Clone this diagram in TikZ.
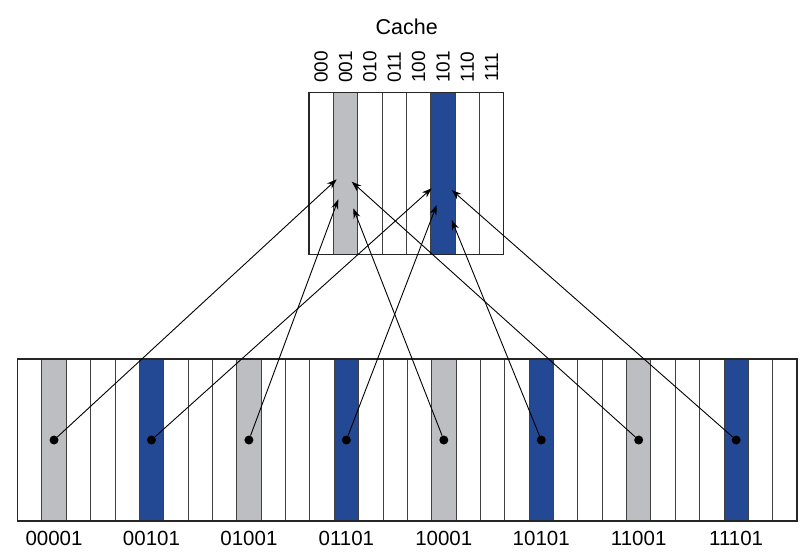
\documentclass[tikz,border=0pt]{standalone}
\usepackage{fontspec}
\setmainfont{Liberation Sans}
\usetikzlibrary{arrows.meta}
\definecolor{slotgray}{RGB}{189,190,193}
\definecolor{slotblue}{RGB}{35,73,148}

\begin{document}
\begin{tikzpicture}[x=1pt, y=-1pt,
  dot/.style={circle, fill=black, inner sep=0pt, minimum size=9pt},
  link/.style={-{Stealth[length=10pt, width=7pt]}, line width=0.9pt},
  slot/.style={draw=black!75, line width=0.8pt},
  frame/.style={draw=black!85, line width=1.2pt}]
  \useasboundingbox (0,0) rectangle (810,558);

  % cache
  \node[font=\fontsize{21.5}{24}\selectfont] (title) at (406.7,27) {Cache};
  \fill[slotgray] ({309+1*24.36},92.5) rectangle ++(24.36,162);
  \fill[slotblue] ({309+5*24.36},92.5) rectangle ++(24.36,162);
  \foreach \j in {1,...,7}
    \draw[slot] ({309+\j*24.36},92.5) -- ++(0,162);
  \draw[frame] (309,92.5) rectangle ({309+8*24.36},254.5);
  \foreach \j/\lab in {0/000,1/001,2/010,3/011,4/100,5/101,6/110,7/111}
    \node[rotate=90, font=\fontsize{19}{20}\selectfont] (b\j) at ({309+(\j+0.5)*24.36},67) {\lab};

  % memory
  \foreach \i in {1,9,17,25}
    \fill[slotgray] ({17.5+\i*24.36},359) rectangle ++(24.36,162);
  \foreach \i in {5,13,21,29}
    \fill[slotblue] ({17.5+\i*24.36},359) rectangle ++(24.36,162);
  \foreach \i in {1,...,31}
    \draw[slot] ({17.5+\i*24.36},359) -- ++(0,162);
  \draw[frame] (17.5,359) rectangle ({17.5+32*24.36},521);
  \foreach \i/\lab in {1/00001,5/00101,9/01001,13/01101,17/10001,21/10101,25/11001,29/11101} {
    \node[dot] (m\i) at ({17.5+(\i+0.5)*24.36},440) {};
    \node[font=\fontsize{20.5}{22}\selectfont] (l\i) at ({17.5+(\i+0.5)*24.36},538) {\lab};
  }

  % targets in cache
  \coordinate (t1) at (336.7,179.3);
  \coordinate (t25) at (351.7,181.7);
  \coordinate (t9) at (338.3,199.3);
  \coordinate (t17) at (353.3,208.3);
  \coordinate (t5) at (431.7,188.3);
  \coordinate (t29) at (451.7,190);
  \coordinate (t13) at (436.7,205);
  \coordinate (t21) at (451.7,220);

  % edges
  \foreach \i in {1,5,...,29}
    \draw[link] (m\i) -- (t\i);
\end{tikzpicture}
\end{document}
